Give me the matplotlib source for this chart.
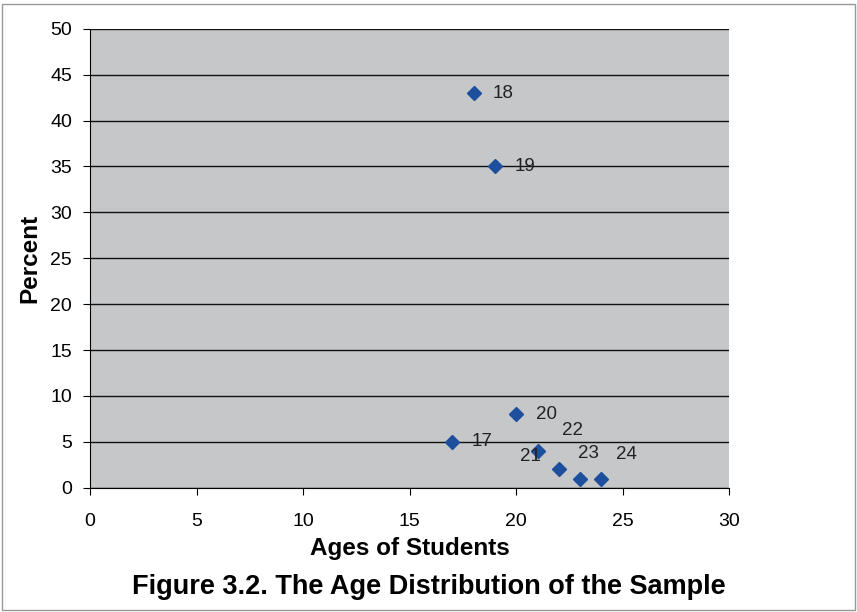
import matplotlib.pyplot as plt
from matplotlib.patches import Rectangle

plt.rcParams['font.family'] = ['Liberation Sans', 'DejaVu Sans']

# datos
edades = [17, 18, 19, 20, 21, 22, 23, 24]
porcentaje = [5, 43, 35, 8, 4, 2, 1, 1]
etiquetas = ['17', '18', '19', '20', '21', '22', '23', '24']
# desplazamiento de cada etiqueta (puntos)
desplaz = [(14, 0), (14, 0), (14, 0), (14, 0), (-5, -4), (10, 28), (6, 18), (18, 17)]

fig = plt.figure(figsize=(8.57, 6.12), dpi=100)
ax = fig.add_axes([0.105, 0.203, 0.746, 0.750])
ax.set_facecolor('#c5c7c9')

ax.plot(edades, porcentaje, linestyle='none', marker='D', markersize=7,
        color='#1d4f9c', zorder=3)
for x, y, t, (dx, dy) in zip(edades, porcentaje, etiquetas, desplaz):
    ax.annotate(t, (x, y), xytext=(dx, dy), textcoords='offset points',
                ha='left' if dx > 8 and dy == 0 else 'center', va='center',
                fontsize=13.5, color='#222222')

ax.set_xlim(0, 30)
ax.set_ylim(0, 50)
ax.set_xticks(range(0, 31, 5))
ax.set_yticks(range(0, 51, 5))
ax.grid(axis='y', color='#111111', linewidth=1)
ax.set_axisbelow(True)
ax.spines['top'].set_visible(False)
ax.spines['right'].set_visible(False)
ax.tick_params(labelsize=14, length=5)
ax.tick_params(axis='x', pad=13)
ax.tick_params(axis='y', pad=8)

ax.set_xlabel('Ages of Students', fontsize=17.5, fontweight='bold', labelpad=5)
ax.set_ylabel('Percent', fontsize=17.5, fontweight='bold', labelpad=6)

fig.text(0.5, 0.03, 'Figure 3.2. The Age Distribution of the Sample',
         ha='center', va='baseline', fontsize=19.5, fontweight='bold')

fig.patches.append(Rectangle((0.002, 0.003), 0.996, 0.99, transform=fig.transFigure,
                             fill=False, edgecolor='#999999', linewidth=1))

plt.savefig('out.png', dpi=100)
